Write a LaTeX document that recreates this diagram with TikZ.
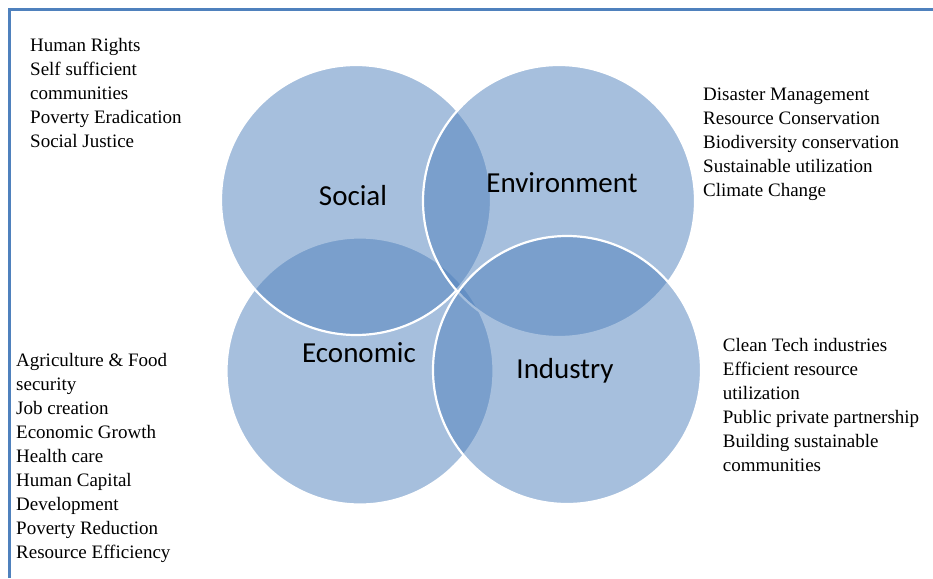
\documentclass[tikz,border=0pt]{standalone}
\usepackage{fontspec}
\setmainfont{Liberation Serif}
\newfontfamily\labfont{Carlito}
\definecolor{acc}{HTML}{4F81BD}
\begin{document}
\begin{tikzpicture}[x=1pt,y=-1pt,
  circ/.style={circle, fill=acc, fill opacity=0.5, draw=white, draw opacity=1, line width=2.2pt, inner sep=0},
  lab/.style={font=\labfont\fontsize{29}{34}\selectfont, anchor=base, inner sep=0},
  lst/.style={font=\fontsize{19}{24}\selectfont, align=left, anchor=base west, inner sep=0}]
\useasboundingbox (0,0) rectangle (933,578);
\fill[white] (0,0) rectangle (933,578);
\draw[acc, line width=3pt] (9,578) -- (9,10) -- (933,10);
% circles (drawing order matters)
\node[circ, minimum size=267pt] (ceco) at (360,371) {};
\node[circ, minimum size=270pt] (csoc) at (356,200) {};
\node[circ, minimum size=272pt] (cenv) at (559,201) {};
\node[circ, minimum size=268pt] (cind) at (567,370) {};
% labels
\node[lab] (lsoc) at (353,205) {Social};
\node[lab] (lenv) at (562,192) {Environment};
\node[lab] (leco) at (359,362) {Economic};
\node[lab] (lind) at (565,378) {Industry};
% lists (base anchor = baseline of last line)
\node[lst] (tsoc) at (30,147.5) {Human Rights\\Self sufficient\\communities\\Poverty Eradication\\Social Justice};
\node[lst] (tenv) at (703,196) {Disaster Management\\Resource Conservation\\Biodiversity conservation\\Sustainable utilization\\Climate Change};
\node[lst] (teco) at (16,558.7) {Agriculture \& Food\\security\\Job creation\\Economic Growth\\Health care\\Human Capital\\Development\\Poverty Reduction\\Resource Efficiency};
\node[lst] (tind) at (722.7,471) {Clean Tech industries\\Efficient resource\\utilization\\Public private partnership\\Building sustainable\\communities};
\end{tikzpicture}
\end{document}
